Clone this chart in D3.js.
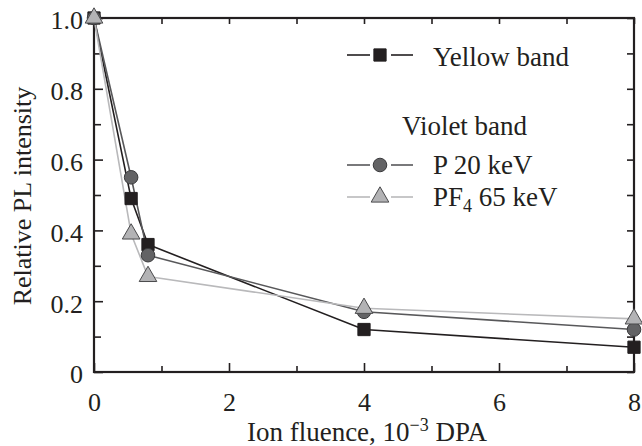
<!DOCTYPE html>
<html>
<head>
<meta charset="utf-8">
<script src="https://cdn.jsdelivr.net/npm/d3@7"></script>
<style>
  body { margin: 0; background: #fff; }
  text { font-family: "Liberation Serif", "DejaVu Serif", serif; fill: #231f20; }
</style>
</head>
<body>
<div class="chart"></div>
<script>
// values
var fluence = [0, 0.55, 0.8, 4, 8];
var yellowBand = [1.0, 0.49, 0.36, 0.12, 0.07];
var violetP20 = [1.0, 0.55, 0.33, 0.17, 0.12];
var violetPF4 = [1.0, 0.39, 0.27, 0.18, 0.15];
var xMajorTicks = [0, 2, 4, 6, 8];
var xMinorTicks = [1, 3, 5, 7];
var yMajorTicks = [0, 0.2, 0.4, 0.6, 0.8, 1.0];
var yTickLabels = ["0", "0.2", "0.4", "0.6", "0.8", "1.0"];
var yMinorTicks = [0.1, 0.3, 0.5, 0.7, 0.9];

function drawChart() {
    var w = 642, h = 446;
    var plotLeft = 94, plotRight = 634, plotTop = 18, plotBottom = 372;

    var svg = d3.select(".chart").append("svg")
        .attr("width", w).attr("height", h);

    var x = d3.scaleLinear().domain([0, 8]).range([plotLeft, plotRight]);
    var y = d3.scaleLinear().domain([0, 1]).range([plotBottom, plotTop]);

    function styleAxis(g) {
        g.select(".domain").remove();
        g.selectAll("line").attr("stroke", "#231f20").attr("stroke-width", 1.6);
        g.selectAll("text").attr("font-size", 26).attr("font-family", "Liberation Serif")
            .attr("fill", "#231f20").attr("dy", null);
    }

    // bottom
    svg.append("g").attr("transform", `translate(0,${plotBottom})`)
        .call(d3.axisBottom(x).tickValues(xMajorTicks).tickSize(-9).tickPadding(39).tickFormat(d3.format("d")))
        .call(styleAxis);
    svg.append("g").attr("transform", `translate(0,${plotBottom})`)
        .call(d3.axisBottom(x).tickValues(xMinorTicks).tickSize(-6).tickFormat(""))
        .call(styleAxis);
    // top
    svg.append("g").attr("transform", `translate(0,${plotTop})`)
        .call(d3.axisTop(x).tickValues(xMajorTicks.concat(xMinorTicks)).tickSize(-6).tickFormat(""))
        .call(styleAxis);
    // left
    svg.append("g").attr("transform", `translate(${plotLeft},0)`)
        .call(d3.axisLeft(y).tickValues(yMajorTicks).tickSize(-9).tickPadding(11)
            .tickFormat(function(d, i){ return yTickLabels[i]; }))
        .call(styleAxis)
        .selectAll("text").attr("dy", "0.42em");
    svg.append("g").attr("transform", `translate(${plotLeft},0)`)
        .call(d3.axisLeft(y).tickValues(yMinorTicks).tickSize(-7).tickFormat(""))
        .call(styleAxis);
    // right
    svg.append("g").attr("transform", `translate(${plotRight},0)`)
        .call(d3.axisRight(y).tickValues(yMajorTicks.concat(yMinorTicks)).tickSize(-7).tickFormat(""))
        .call(styleAxis);

    // frame
    svg.append("rect")
        .attr("x", plotLeft).attr("y", plotTop)
        .attr("width", plotRight - plotLeft).attr("height", plotBottom - plotTop)
        .attr("fill", "none").attr("stroke", "#231f20").attr("stroke-width", 2.2);

    // axis titles
    var xt = svg.append("text")
        .attr("x", 367).attr("y", 441)
        .attr("text-anchor", "middle").attr("font-size", 27);
    xt.append("tspan").text("Ion fluence, 10");
    xt.append("tspan").attr("font-size", 18).attr("dy", -10).text("\u22123");
    xt.append("tspan").attr("dy", 10).text(" DPA");

    svg.append("text")
        .attr("transform", "translate(31,196) rotate(-90)")
        .attr("text-anchor", "middle").attr("font-size", 26)
        .text("Relative PL intensity");

    var series = [
        {name: "yellow", values: yellowBand, line: "#231f20", fill: "#231f20", stroke: "#231f20", shape: "square"},
        {name: "p20", values: violetP20, line: "#58585a", fill: "#636365", stroke: "#3a3a3c", shape: "circle"},
        {name: "pf4", values: violetPF4, line: "#b9b9bb", fill: "#b3b3b5", stroke: "#4a4a4c", shape: "triangle"}
    ];

    var line = d3.line()
        .x(function(d){ return x(d[0]); })
        .y(function(d){ return y(d[1]); });

    var symbols = {
        square: d3.symbol().type(d3.symbolSquare).size(150),
        circle: d3.symbol().type(d3.symbolCircle).size(145),
        triangle: d3.symbol().type(d3.symbolTriangle).size(135)
    };

    series.forEach(function(s){
        svg.append("path")
            .datum(fluence.map(function(f, i){ return [f, s.values[i]]; }))
            .attr("d", line)
            .attr("fill", "none")
            .attr("stroke", s.line)
            .attr("stroke-width", 1.6)
            .attr("stroke-linejoin", "round");
    });

    series.forEach(function(s){
        svg.selectAll("path.m-" + s.name)
            .data(fluence.map(function(f, i){ return [f, s.values[i]]; }))
            .enter().append("path")
            .attr("class", "m-" + s.name)
            .attr("d", symbols[s.shape])
            .attr("transform", function(d){ return `translate(${x(d[0])},${y(d[1])})`; })
            .attr("fill", s.fill)
            .attr("stroke", s.stroke)
            .attr("stroke-width", 1);
    });

    // legend
    var legend = svg.append("g");
    var legendRows = [
        {s: series[0], y: 55},
        {s: series[1], y: 165},
        {s: series[2], y: 197}
    ];
    legendRows.forEach(function(r){
        legend.append("line").attr("x1", 347).attr("x2", 370).attr("y1", r.y).attr("y2", r.y)
            .attr("stroke", r.s.line).attr("stroke-width", 1.6);
        legend.append("line").attr("x1", 391).attr("x2", 413).attr("y1", r.y).attr("y2", r.y)
            .attr("stroke", r.s.line).attr("stroke-width", 1.6);
        legend.append("path").attr("d", symbols[r.s.shape])
            .attr("transform", `translate(380,${r.y})`)
            .attr("fill", r.s.fill).attr("stroke", r.s.stroke).attr("stroke-width", 1);
    });
    legend.append("text").attr("x", 433).attr("y", 66).attr("font-size", 27).text("Yellow band");
    legend.append("text").attr("x", 402).attr("y", 135).attr("font-size", 27).text("Violet band");
    legend.append("text").attr("x", 433).attr("y", 174).attr("font-size", 27).text("P 20 keV");
    var pf = legend.append("text").attr("x", 433).attr("y", 206).attr("font-size", 27);
    pf.append("tspan").text("PF");
    pf.append("tspan").attr("font-size", 18).attr("dy", 6).text("4");
    pf.append("tspan").attr("dy", -6).text(" 65 keV");
}

drawChart();
</script>
</body>
</html>
